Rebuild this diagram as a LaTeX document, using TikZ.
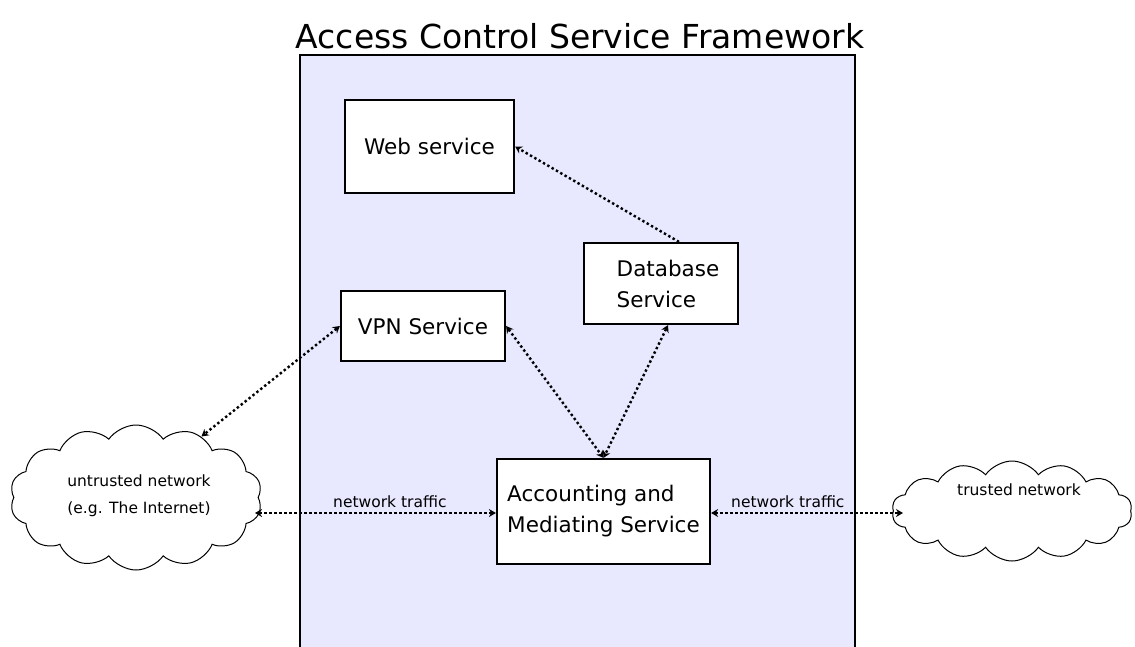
\documentclass[tikz,border=0pt]{standalone}
\usepackage{fontspec}
\setmainfont{DejaVu Sans}
\usetikzlibrary{shapes.symbols,arrows.meta}
\definecolor{frame}{HTML}{E8E8FF}
\tikzset{
  svc/.style={draw=black, line width=2.2pt, fill=white, align=left, font=\fontsize{21.5}{31}\selectfont, inner sep=0pt},
  cl/.style={draw=black, line width=1pt, fill=white, cloud, cloud ignores aspect, cloud puffs=14, cloud puff arc=110},
  cltext/.style={align=center, font=\fontsize{15.5}{27}\selectfont},
  link/.style={line width=2.4pt, dash pattern=on 2.4pt off 2.6pt, {Stealth[length=7pt,width=8pt]}-{Stealth[length=7pt,width=8pt]}},
  link1/.style={line width=2.4pt, dash pattern=on 2.4pt off 2.6pt, -{Stealth[length=7pt,width=8pt]}},
  lbl/.style={font=\fontsize{15.5}{17}\selectfont}
}
\begin{document}
\begin{tikzpicture}[x=1pt,y=-1pt]
\useasboundingbox (0,0) rectangle (1135,646);
\fill[white] (0,0) rectangle (1135,646);
\node[font=\fontsize{33}{38}\selectfont] (title) at (580,36) {Access Control Service Framework};
\draw[line width=2.2pt, fill=frame] (300,700) -- (300,55) -- (855,55) -- (855,700);
\node[svc, minimum width=169pt, minimum height=93pt] (web) at (429.5,146.5) {Web service};
\node[svc, minimum width=154pt, minimum height=81pt] (db) at (661,283.5) {\hspace*{14pt}Database\\\hspace*{14pt}Service};
\node[svc, minimum width=164pt, minimum height=70pt] (vpn) at (423,326) {VPN Service};
\node[svc, minimum width=213pt, minimum height=105pt] (acc) at (603.5,511.5) {Accounting and\\Mediating Service};
\node[cl, minimum width=252pt, minimum height=145pt] (u) at (136,497.5) {};
\node[cltext] (ut) at (139,496) {untrusted network\\(e.g. The Internet)};
\node[cl, minimum width=240pt, minimum height=100pt] (t) at (1012,511) {};
\node[cltext] (tt) at (1019,490) {trusted network};
\draw[link1] ([xshift=18pt]db.north) -- (web.east);
\draw[link] (vpn.east) -- (acc.north);
\draw[link] ([xshift=7pt]db.south) -- (acc.north);
\draw[link] (vpn.west) -- (u.43);
\coordinate (ue) at (255,513);
\coordinate (tw) at (903,513);
\draw[link] (ue) -- (acc.west |- ue) node[lbl, pos=0.56, above=1pt] (l1) {network traffic};
\draw[link] (acc.east |- tw) -- (tw) node[lbl, pos=0.4, above=1pt] (l2) {network traffic};
\end{tikzpicture}
\end{document}
